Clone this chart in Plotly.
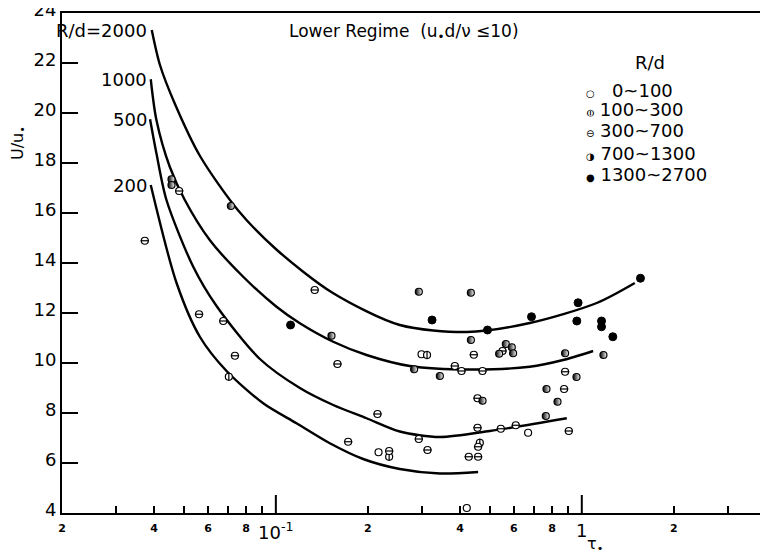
import math
import plotly.graph_objects as go

# ---------------- data ----------------
tau_0_100 = [0.2993, 0.6676, 0.2166, 0.4208]
U_0_100 = [10.35, 7.21, 6.43, 4.2]

tau_100_300 = [0.0702, 0.312, 0.4642, 0.2346]
U_100_300 = [9.45, 10.32, 6.81, 6.25]

tau_300_700 = [0.0373, 0.0561, 0.0673, 0.0735, 0.0483, 0.134, 0.4437, 0.5507, 0.159,
               0.3846, 0.4045, 0.4737, 0.4562, 0.2149, 0.4562, 0.5437, 0.6085, 0.2933,
               0.1723, 0.4582, 0.4272, 0.4582, 0.3131, 0.2346, 0.8818, 0.8752, 0.9069]
U_300_700 = [14.89, 11.95, 11.68, 10.29, 16.88, 12.92, 10.33, 10.48, 9.96,
             9.88, 9.68, 9.68, 8.59, 7.96, 7.41, 7.37, 7.51, 6.96,
             6.85, 6.65, 6.25, 6.25, 6.52, 6.48, 9.65, 8.96, 7.28]

tau_700_1300 = [0.0713, 0.0456, 0.0456, 0.2933, 0.4339, 0.152, 0.434, 0.5368, 0.5645, 0.5904,
                0.5963, 0.2831, 0.3436, 0.7666, 0.4737, 0.7627, 0.8818, 1.177, 0.9609, 0.8329]
U_700_1300 = [16.28, 17.35, 17.12, 12.85, 12.81, 11.09, 10.92, 10.37, 10.76, 10.63,
              10.39, 9.75, 9.48, 8.96, 8.49, 7.88, 10.39, 10.32, 9.44, 8.45]

tau_1300_2700 = [0.1117, 0.324, 0.4918, 0.6848, 0.9725, 0.9632, 1.16, 1.16, 1.263, 1.555]
U_1300_2700 = [11.52, 11.72, 11.32, 11.85, 12.41, 11.68, 11.68, 11.45, 11.05, 13.39]

curve_2000_tau = [0.0393, 0.0418, 0.0468, 0.0565, 0.0751, 0.1008, 0.1536, 0.2542, 0.4208,
                  0.6761, 1.119, 1.490]
curve_2000_U = [23.32, 21.92, 20.36, 18.28, 16.12, 14.52, 12.80, 11.52, 11.24,
                11.60, 12.40, 13.20]

curve_1000_tau = [0.0390, 0.0407, 0.0450, 0.0504, 0.0608, 0.0782, 0.1005, 0.1198, 0.1540,
                  0.1979, 0.2741, 0.4305, 0.6761, 0.8689, 1.089]
curve_1000_U = [21.35, 19.72, 17.85, 16.52, 14.92, 13.45, 12.25, 11.59, 10.85,
                10.32, 9.88, 9.74, 9.85, 10.12, 10.48]

curve_500_tau = [0.0388, 0.0407, 0.0439, 0.0537, 0.0640, 0.0887, 0.1198, 0.1540,
                 0.1979, 0.2542, 0.3436, 0.5002, 0.8933]
curve_500_U = [19.75, 18.39, 16.52, 13.85, 12.28, 10.16, 9.00, 8.32,
               7.79, 7.26, 7.04, 7.28, 7.79]

curve_200_tau = [0.0390, 0.0474, 0.0565, 0.0690, 0.0909, 0.1168, 0.1501, 0.1929, 0.2542,
                 0.3436, 0.4582]
curve_200_U = [17.12, 13.19, 11.04, 9.68, 8.39, 7.59, 6.79, 6.16, 5.76,
               5.58, 5.64]

curve_labels = ["R/d=2000", "1000", "500", "200"]
legend_labels = ["0~100", "100~300", "300~700", "700~1300", "1300~2700"]

x_tickvals = [0.02, 0.04, 0.06, 0.08, 0.2, 0.4, 0.6, 0.8, 2, 4]
x_ticktext = ["<b>2</b>", "<b>4</b>", "<b>6</b>", "<b>8</b>",
              "<b>2</b>", "<b>4</b>", "<b>6</b>", "<b>8</b>", "<b>2</b>", "<b>4</b>"]
x_minorvals = [0.03, 0.05, 0.07, 0.09, 0.3, 0.5, 0.7, 0.9, 3]
decade_vals = [0.1, 1]
decade_text = ["10<sup>-1</sup>", "1"]
y_tickvals = [4, 6, 8, 10, 12, 14, 16, 18, 20, 22, 24]

# ---------------- figure ----------------
fig = go.Figure()

curves = [(curve_2000_tau, curve_2000_U), (curve_1000_tau, curve_1000_U),
          (curve_500_tau, curve_500_U), (curve_200_tau, curve_200_U)]
for (cx, cy), name in zip(curves, curve_labels):
    fig.add_trace(go.Scatter(x=cx, y=cy, mode="lines",
                             line=dict(color="black", width=2.4, shape="spline", smoothing=0.8),
                             showlegend=False, hoverinfo="skip", name=name))

MS = 7
fig.add_trace(go.Scatter(x=tau_0_100, y=U_0_100, mode="markers", showlegend=False, name="0~100",
                         marker=dict(symbol="circle", size=MS, color="white", line=dict(color="black", width=1.2))))
fig.add_trace(go.Scatter(x=tau_100_300, y=U_100_300, mode="markers", showlegend=False, name="100~300",
                         marker=dict(symbol="circle", size=MS, color="white", line=dict(color="black", width=1.2))))
fig.add_trace(go.Scatter(x=tau_100_300, y=U_100_300, mode="markers", showlegend=False, hoverinfo="skip",
                         marker=dict(symbol="line-ns", size=MS - 1, color="black", line=dict(color="black", width=1.2))))
fig.add_trace(go.Scatter(x=tau_300_700, y=U_300_700, mode="markers", showlegend=False, name="300~700",
                         marker=dict(symbol="circle", size=MS, color="white", line=dict(color="black", width=1.2))))
fig.add_trace(go.Scatter(x=tau_300_700, y=U_300_700, mode="markers", showlegend=False, hoverinfo="skip",
                         marker=dict(symbol="line-ew", size=MS - 1, color="black", line=dict(color="black", width=1.2))))
fig.add_trace(go.Scatter(x=tau_700_1300, y=U_700_1300, mode="markers", showlegend=False, name="700~1300",
                         marker=dict(symbol="circle", size=MS, color="black", line=dict(color="black", width=1.2),
                                     gradient=dict(type="horizontal", color="white"))))
fig.add_trace(go.Scatter(x=tau_1300_2700, y=U_1300_2700, mode="markers", showlegend=False, name="1300~2700",
                         marker=dict(symbol="circle", size=MS + 1, color="black", line=dict(color="black", width=1))))

# taller ticks and larger labels at the decades (annotation x on a log axis is log10)
for d, t in zip(decade_vals, decade_text):
    fig.add_shape(type="line", xref="x", yref="paper", x0=d, x1=d, y0=0, y1=0.036,
                  line=dict(color="black", width=2))
    fig.add_annotation(x=math.log10(d), y=-0.035, xref="x", yref="paper", text=t, showarrow=False,
                       xanchor="center", yanchor="middle", font=dict(size=18, color="black"))

# curve labels
label_y = [curve_2000_U[0], curve_1000_U[0], curve_500_U[0], curve_200_U[0]]
for txt, yy in zip(curve_labels, label_y):
    fig.add_annotation(x=-1.415, y=yy, xref="x", yref="y", text=txt, showarrow=False,
                       xanchor="right", yanchor="middle", font=dict(size=18, color="black"))

# title inside the plot
fig.add_annotation(x=0.486, y=0.962, xref="paper", yref="paper",
                   text="Lower Regime  (u<sub>•</sub>d/ν ≤10)", showarrow=False,
                   xanchor="center", yanchor="middle", font=dict(size=17, color="black"))

# legend block
fig.add_annotation(x=0.835, y=0.90, xref="paper", yref="paper", text="R/d", showarrow=False,
                   xanchor="center", yanchor="middle", font=dict(size=18, color="black"))
glyphs = ["○", "⦶", "⊖", "◑\ufe0e", "●"]
leg_y = [0.846, 0.806, 0.766, 0.720, 0.676]
for g, lab, yy in zip(glyphs, legend_labels, leg_y):
    pad = "\u00a0\u00a0\u00a0" if lab == "0~100" else "\u00a0"
    fig.add_annotation(x=0.742, y=yy, xref="paper", yref="paper",
                       text='<span style="font-size:10px;font-family:DejaVu Sans">%s</span>%s%s' % (g, pad, lab),
                       showarrow=False, xanchor="left", yanchor="middle",
                       font=dict(size=18, color="black"))

# axis titles
fig.add_annotation(x=-0.0625, y=0.74, xref="paper", yref="paper", text="U/u<sub>•</sub>",
                   textangle=-90, showarrow=False, xanchor="center", yanchor="middle",
                   font=dict(size=16, color="black"))
fig.add_annotation(x=0.757, y=-0.062, xref="paper", yref="paper", text="τ<sub>•</sub>",
                   showarrow=False, xanchor="center", yanchor="middle",
                   font=dict(size=16, color="black"))

# the page body has an 8px default margin, so the figure is sized to fit the window
fig.update_layout(
    width=760, height=546,
    margin=dict(l=54, r=2, t=5, b=41),
    paper_bgcolor="white", plot_bgcolor="white",
    font=dict(family="DejaVu Sans", color="black"),
    showlegend=False,
    xaxis=dict(type="log", range=[-1.69897, 0.60206], tickmode="array",
               tickvals=x_tickvals, ticktext=x_ticktext, ticks="inside", ticklen=7,
               tickwidth=1.5, tickcolor="black", tickfont=dict(size=11, color="black"),
               ticklabelstandoff=4, ticklabeloverflow="allow",
               minor=dict(tickmode="array", tickvals=x_minorvals, ticks="inside", ticklen=7,
                          tickwidth=1.5, tickcolor="black", showgrid=False),
               showline=True, linewidth=2, linecolor="black", mirror=True,
               showgrid=False, zeroline=False, automargin=False),
    yaxis=dict(range=[4, 24], tickmode="array", tickvals=y_tickvals,
               ticks="inside", ticklen=16, tickwidth=2, tickcolor="black",
               tickfont=dict(size=18, color="black"), ticklabeloverflow="allow",
               ticklabelshift=-3,
               showline=True, linewidth=2, linecolor="black", mirror=True,
               showgrid=False, zeroline=False, automargin=False),
)

fig.write_html("out.html")
